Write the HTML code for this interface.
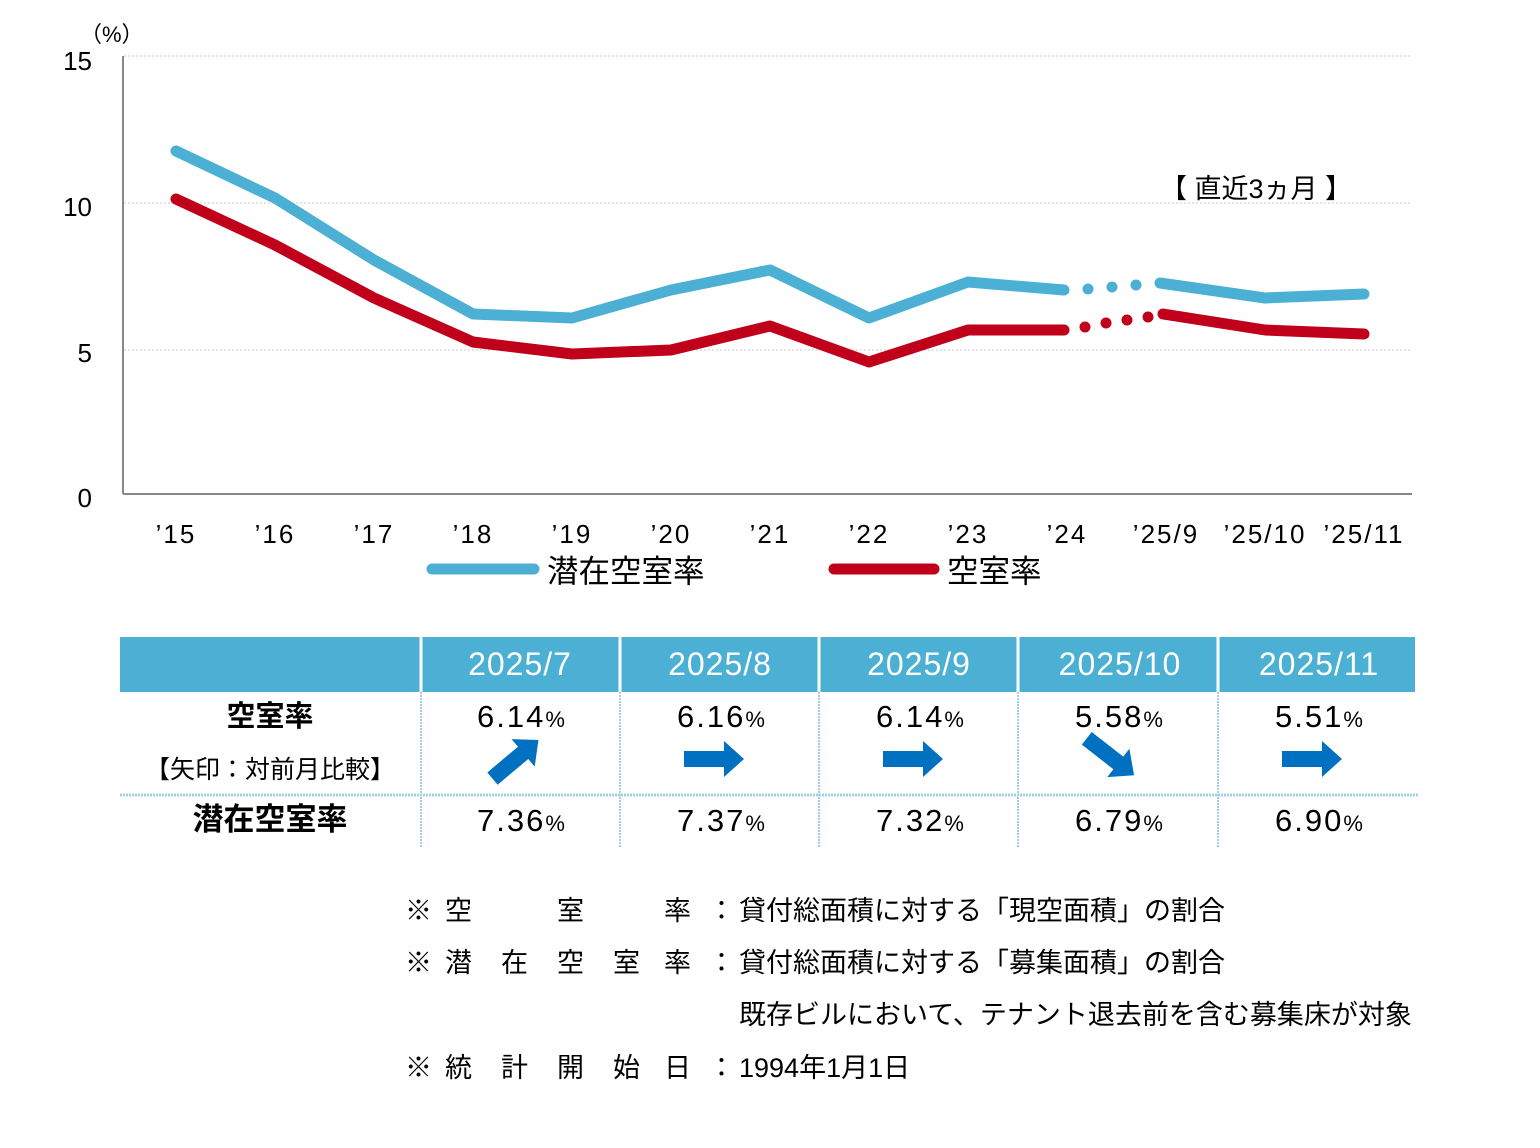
<!DOCTYPE html>
<html><head><meta charset="utf-8"><style>
body{margin:0;background:#fff;width:1540px;height:1148px;overflow:hidden;font-family:"Liberation Sans","Noto Sans CJK JP",sans-serif;}
</style></head><body>
<svg width="1540" height="1148" viewBox="0 0 1540 1148" xmlns="http://www.w3.org/2000/svg" style="position:absolute;left:0;top:0">
<g stroke="#c8c8c8" stroke-width="1" stroke-dasharray="2,2">
<line x1="124" y1="56" x2="1412" y2="56"/><line x1="124" y1="203" x2="1412" y2="203"/><line x1="124" y1="350" x2="1412" y2="350"/>
</g>
<line x1="123" y1="56" x2="123" y2="494" stroke="#888" stroke-width="2"/>
<line x1="123" y1="494" x2="1412" y2="494" stroke="#888" stroke-width="2"/>
<g font-size="26" fill="#000" text-anchor="end">
<text x="92" y="70">15</text><text x="92" y="216">10</text><text x="92" y="362">5</text><text x="92" y="507">0</text>
</g>
<text x="80" y="42" font-size="22">（%）</text>
<g font-size="26" fill="#000" text-anchor="middle" letter-spacing="2">
<text x="176" y="543">’15</text><text x="275" y="543">’16</text><text x="374" y="543">’17</text><text x="473" y="543">’18</text><text x="572" y="543">’19</text><text x="671" y="543">’20</text><text x="770" y="543">’21</text><text x="869" y="543">’22</text><text x="968" y="543">’23</text><text x="1067" y="543">’24</text><text x="1166" y="543">’25/9</text><text x="1265" y="543">’25/10</text><text x="1364" y="543">’25/11</text>
</g>
<text x="1160" y="198" font-size="27">【 直近3ヵ月 】</text>
<g fill="none" stroke-width="11" stroke-linecap="round" stroke-linejoin="round">
<polyline stroke="#4bb0d4" points="176,151 275,198 374,260 473,314 572,318 671,290 770,270 869,318 968,282 1064,290"/>
<polyline stroke="#4bb0d4" points="1160,283 1265,298 1364,294"/>
<polyline stroke="#c0001a" points="176,199 275,245 374,298 473,342 572,354 671,350 770,326 869,362 968,330 1064,330"/>
<polyline stroke="#c0001a" points="1163,314 1265,330 1364,334"/>
</g>
<g fill="#4bb0d4"><circle cx="1088" cy="289" r="5.5"/><circle cx="1112" cy="287" r="5.5"/><circle cx="1136" cy="285" r="5.5"/></g>
<g fill="#c0001a"><circle cx="1085" cy="327" r="5.5"/><circle cx="1106" cy="323" r="5.5"/><circle cx="1127" cy="320" r="5.5"/><circle cx="1148" cy="317" r="5.5"/></g>
<line x1="432" y1="569" x2="534" y2="569" stroke="#4bb0d4" stroke-width="11" stroke-linecap="round"/>
<text x="547" y="582" font-size="31.5">潜在空室率</text>
<line x1="834" y1="569" x2="934" y2="569" stroke="#c0001a" stroke-width="11" stroke-linecap="round"/>
<text x="947" y="582" font-size="31.5">空室率</text>
<rect x="120" y="637" width="1295" height="55" fill="#4bb0d4"/>
<g stroke="#fff" stroke-width="3"><line x1="421" y1="637" x2="421" y2="692"/><line x1="620" y1="637" x2="620" y2="692"/><line x1="819" y1="637" x2="819" y2="692"/><line x1="1018" y1="637" x2="1018" y2="692"/><line x1="1218" y1="637" x2="1218" y2="692"/></g>
<g stroke="#9fd0e4" stroke-width="2" stroke-dasharray="2,1">
<line x1="421" y1="692" x2="421" y2="848"/><line x1="620" y1="692" x2="620" y2="848"/><line x1="819" y1="692" x2="819" y2="848"/><line x1="1018" y1="692" x2="1018" y2="848"/><line x1="1218" y1="692" x2="1218" y2="848"/>
<line x1="120" y1="795" x2="1418" y2="795" stroke-width="3"/>
</g>
<g font-size="32" fill="#fff" text-anchor="middle" letter-spacing="1">
<text x="520" y="675">2025/7</text><text x="720" y="675">2025/8</text><text x="919" y="675">2025/9</text><text x="1120" y="675">2025/10</text><text x="1319" y="675">2025/11</text>
</g>
<text x="270" y="726" font-size="29" font-weight="bold" text-anchor="middle">空室率</text>
<text x="270" y="778" font-size="25" text-anchor="middle">【矢印：対前月比較】</text>
<text x="270" y="830" font-size="31" font-weight="bold" text-anchor="middle">潜在空室率</text>
<g font-size="31" text-anchor="middle" letter-spacing="2">
<text x="522" y="727">6.14<tspan font-size="22">%</tspan></text>
<text x="722" y="727">6.16<tspan font-size="22">%</tspan></text>
<text x="921" y="727">6.14<tspan font-size="22">%</tspan></text>
<text x="1120" y="727">5.58<tspan font-size="22">%</tspan></text>
<text x="1320" y="727">5.51<tspan font-size="22">%</tspan></text>
<text x="522" y="831">7.36<tspan font-size="22">%</tspan></text>
<text x="722" y="831">7.37<tspan font-size="22">%</tspan></text>
<text x="921" y="831">7.32<tspan font-size="22">%</tspan></text>
<text x="1120" y="831">6.79<tspan font-size="22">%</tspan></text>
<text x="1320" y="831">6.90<tspan font-size="22">%</tspan></text>
</g>
<g fill="#0070c0">
<polygon points="684,751 724,751 724,741 744,759 724,777 724,767 684,767"/>
<polygon points="883,751 923,751 923,741 943,759 923,777 923,767 883,767"/>
<polygon points="1282,751 1322,751 1322,741 1342,759 1322,777 1322,767 1282,767"/>
<g transform="translate(517,758) rotate(-40)"><polygon points="-32,-8 8,-8 8,-18 28,0 8,18 8,8 -32,8"/></g>
<g transform="translate(1112,758) rotate(38)"><polygon points="-32,-8 8,-8 8,-18 28,0 8,18 8,8 -32,8"/></g>
</g>
<g font-size="27" fill="#000">
<text x="405" y="920">※</text><text x="445" y="920">空</text><text x="557" y="920">室</text><text x="664" y="920">率</text><text x="708" y="920">：</text>
<text x="405" y="972">※</text><text x="445" y="972">潜</text><text x="501" y="972">在</text><text x="557" y="972">空</text><text x="613" y="972">室</text><text x="664" y="972">率</text><text x="708" y="972">：</text>
<text x="405" y="1077">※</text><text x="445" y="1077">統</text><text x="501" y="1077">計</text><text x="557" y="1077">開</text><text x="613" y="1077">始</text><text x="664" y="1077">日</text><text x="708" y="1077">：</text>
<text x="739" y="920">貸付総面積に対する「現空面積」の割合</text>
<text x="739" y="972">貸付総面積に対する「募集面積」の割合</text>
<text x="739" y="1024">既存ビルにおいて、テナント退去前を含む募集床が対象</text>
<text x="739" y="1077">1994年1月1日</text>
</g>
</svg>
</body></html>
